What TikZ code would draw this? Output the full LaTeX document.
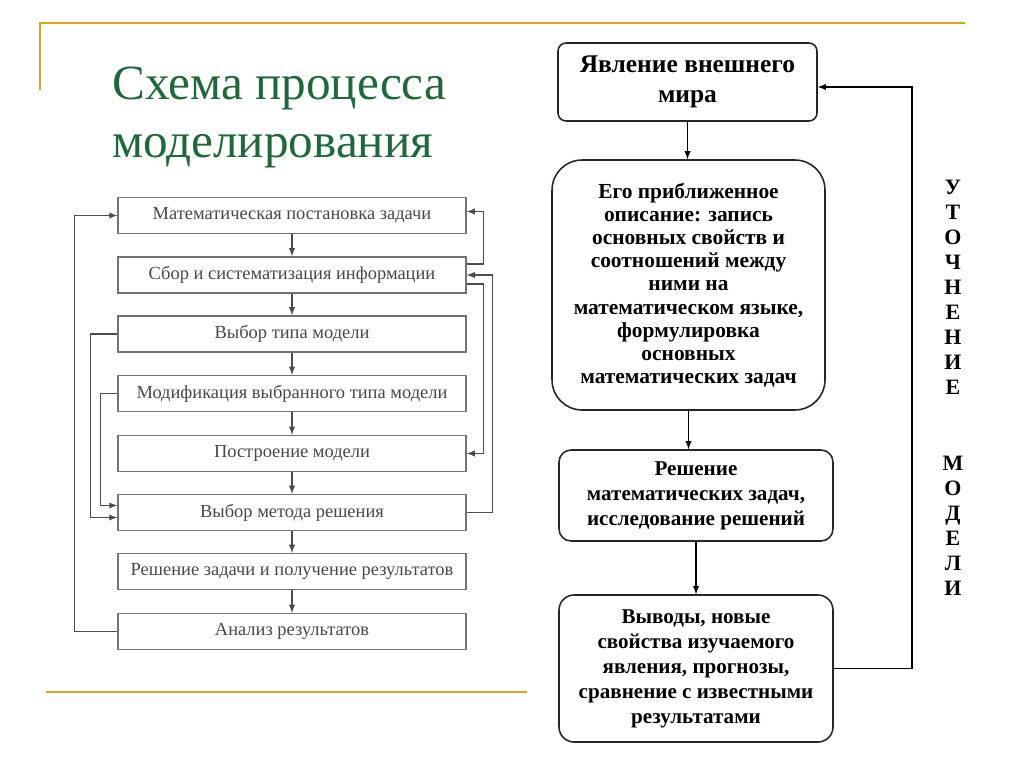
\documentclass[tikz,border=0pt]{standalone}
\usepackage{fontspec}
\setmainfont{Liberation Serif}
\usetikzlibrary{calc,arrows,positioning}

\definecolor{titlegreen}{RGB}{30,105,60}
\definecolor{goldline}{RGB}{218,165,32}

\tikzset{
  lbox/.style={draw=black!55, line width=0.8pt, minimum width=6.96cm, minimum height=0.72cm,
    inner sep=0pt, text=black!72, font=\fontsize{10.5}{12}\selectfont},
  rbox/.style={draw=black!85, line width=0.9pt, align=center, inner sep=0pt,
    font=\bfseries\fontsize{12}{14.2}\selectfont},
  larr/.style={-latex, draw=black!70, line width=0.6pt},
  rarr/.style={-latex, line width=0.6pt},
  vtext/.style={align=center, inner sep=0pt, font=\bfseries\fontsize{12.5}{14.2}\selectfont}
}

\begin{document}
\begin{tikzpicture}[x=0.02cm,y=-0.02cm]
\useasboundingbox (0,0) rectangle (1024,767);
% decoration
\draw[goldline, line width=1.2pt] (40,90) -- (40,23) -- (965,23);
\draw[goldline, line width=1.2pt] (46,692) -- (527,692);
\node[anchor=base west, text=titlegreen, font=\fontsize{28}{32}\selectfont] (title1) at (106,100) {Схема процесса};
\node[anchor=base west, text=titlegreen, font=\fontsize{28}{32}\selectfont] (title2) at (106,157) {моделирования};

% left scheme
\node[lbox] (m1) at (292,215.5) {Математическая постановка задачи};
\node[lbox] (m2) at (292,275) {Сбор и систематизация информации};
\node[lbox] (m3) at (292,334) {Выбор типа модели};
\node[lbox] (m4) at (292,393.5) {Модификация выбранного типа модели};
\node[lbox] (m5) at (292,453.5) {Построение модели};
\node[lbox] (m6) at (292,512.5) {Выбор метода решения};
\node[lbox] (m7) at (292,571.5) {Решение задачи и получение результатов};
\node[lbox] (m8) at (292,631.5) {Анализ результатов};
\draw[larr] (m1) -- (m2);
\draw[larr] (m2) -- (m3);
\draw[larr] (m3) -- (m4);
\draw[larr] (m4) -- (m5);
\draw[larr] (m5) -- (m6);
\draw[larr] (m6) -- (m7);
\draw[larr] (m7) -- (m8);
\draw[larr] (m8.west) -- ++(-43,0) |- (m1.west);
\draw[larr] (m3.west) -- ++(-27,0) |- ($(m6.west)+(0,5)$);
\draw[larr] (m4.west) -- ++(-17,0) |- ($(m6.west)+(0,-7)$);
\draw[larr] ($(m2.east)+(0,-11)$) -- ++(17,0) |- ($(m1.east)+(0,-4)$);
\draw[larr] (m6.east) -- ++(26,0) |- (m2.east);
\draw[larr] ($(m2.east)+(0,9)$) -- ++(17,0) |- (m5.east);

% right scheme
\node[rbox, minimum width=5.18cm, minimum height=1.56cm, rounded corners=0.16cm,
  font=\bfseries\fontsize{14.5}{17}\selectfont] (yav) at (687.5,82) {Явление внешнего\\мира};
\node[rbox, minimum width=5.46cm, minimum height=5cm, rounded corners=0.6cm,
  font=\bfseries\fontsize{12.2}{13.2}\selectfont] (opis) at (688.5,285)
  {Его приближенное\\описание: запись\\основных свойств и\\соотношений между\\ними на\\математическом языке,\\формулировка\\основных\\математических задач};
\node[rbox, minimum width=5.48cm, minimum height=1.82cm, rounded corners=0.24cm] (resh) at (696,495.5)
  {Решение\\математических задач,\\исследование решений};
\node[rbox, minimum width=5.48cm, minimum height=2.94cm, rounded corners=0.3cm] (vyv) at (696,668.5)
  {Выводы, новые\\свойства изучаемого\\явления, прогнозы,\\сравнение с известными\\результатами};
\draw[rarr] (yav.south) -- (yav.south |- opis.north);
\draw[rarr] (opis.south) -- (opis.south |- resh.north);
\draw[rarr] (resh) -- (vyv);
\coordinate (fb) at (912,87);
\draw[rarr] (vyv.east) -| (fb) -- (fb -| yav.east);
\node[vtext] (utoch) at (953,287.5) {У\\Т\\О\\Ч\\Н\\Е\\Н\\И\\Е};
\node[vtext] (modeli) at (953,525.5) {М\\О\\Д\\Е\\Л\\И};
\end{tikzpicture}
\end{document}
